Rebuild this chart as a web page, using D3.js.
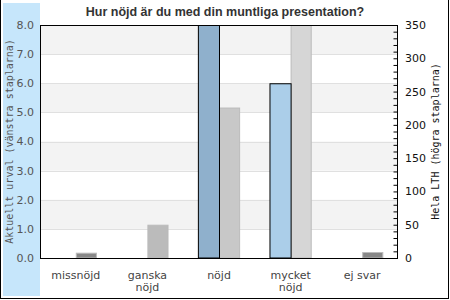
<!DOCTYPE html>
<html>
<head>
<meta charset="utf-8">
<script src="https://cdn.jsdelivr.net/npm/d3@7"></script>
<style>
  body { margin: 0; background: #fff; }
  svg { display: block; }
</style>
</head>
<body>
<svg id="chart" width="450" height="300"></svg>
<script>
const categories = [["missnöjd"], ["ganska", "nöjd"], ["nöjd"], ["mycket", "nöjd"], ["ej svar"]];
const currentValues = [0, 0, 8, 6, 0];        // left axis (Aktuellt urval)
const lthValues = [8, 50, 226, 350, 9];       // right axis (Hela LTH)
const leftTicks = [0, 1, 2, 3, 4, 5, 6, 7, 8];
const rightTicks = [0, 50, 100, 150, 200, 250, 300, 350];

// colours per bar, as in the original
const blueFills = ["#abcee9", "#abcee9", "#8fb0cc", "#abcee9", "#abcee9"];
const grayFills = ["#888888", "#bbbbbb", "#c8c8c8", "#d6d6d6", "#888888"];

const W = 450, H = 300;
const margin = { left: 40, right: 52, top: 25, bottom: 42 };
const plotRight = W - margin.right;
const plotBottom = H - margin.bottom;

const svg = d3.select("#chart");
const keys = categories.map((c) => c.join(" "));

const x = d3.scaleBand().domain(keys).range([margin.left, plotRight]).paddingInner(0.41).paddingOuter(0.205);
const sub = d3.scaleBand().domain(["cur", "lth"]).range([0, x.bandwidth()]);
const yL = d3.scaleLinear().domain([0, 8]).range([plotBottom, margin.top]);
const yR = d3.scaleLinear().domain([0, 350]).range([plotBottom, margin.top]);

// outer frame + left panel
svg.append("rect").attr("x", 0.5).attr("y", -2).attr("width", 448).attr("height", 300.5)
  .attr("fill", "none").attr("stroke", "#000");
svg.append("rect").attr("x", 3).attr("y", 3).attr("width", margin.left - 3).attr("height", 293)
  .attr("fill", "#c6e6fb");

// alternating bands
const bands = svg.append("g");
leftTicks.slice(1).forEach((t) => {
  if (t % 2 === 0) {
    bands.append("rect").attr("x", margin.left).attr("y", yL(t))
      .attr("width", plotRight - margin.left).attr("height", yL(t - 1) - yL(t)).attr("fill", "#f3f3f3");
  }
});
bands.selectAll("line").data(leftTicks.slice(1, -1)).join("line")
  .attr("x1", margin.left).attr("x2", plotRight)
  .attr("y1", (d) => Math.round(yL(d)) + 0.5).attr("y2", (d) => Math.round(yL(d)) + 0.5)
  .attr("stroke", "#e0e0e0");

// bars
const groups = svg.append("g").selectAll("g").data(keys).join("g")
  .attr("transform", (d) => `translate(${x(d)},0)`);

groups.filter((d, i) => lthValues[i] > 0).append("rect")
  .attr("x", sub("lth") + 0.5)
  .attr("y", (d) => yR(lthValues[keys.indexOf(d)]) + 0.5)
  .attr("width", sub.bandwidth() - 1)
  .attr("height", (d) => plotBottom - yR(lthValues[keys.indexOf(d)]) - 0.5)
  .attr("fill", (d) => grayFills[keys.indexOf(d)])
  .attr("stroke", "#bbbbbb");

groups.filter((d, i) => currentValues[i] > 0).append("rect")
  .attr("x", sub("cur") + 0.5)
  .attr("y", (d) => yL(currentValues[keys.indexOf(d)]) + 0.5)
  .attr("width", sub.bandwidth())
  .attr("height", (d) => plotBottom - yL(currentValues[keys.indexOf(d)]) - 0.5)
  .attr("fill", (d) => blueFills[keys.indexOf(d)])
  .attr("stroke", "#000");

// plot frame
svg.append("rect").attr("x", margin.left + 0.5).attr("y", margin.top + 0.5)
  .attr("width", plotRight - margin.left - 1).attr("height", plotBottom - margin.top)
  .attr("fill", "none").attr("stroke", "#000");

// left axis labels
svg.append("g").selectAll("text").data(leftTicks).join("text")
  .attr("x", 34).attr("y", (d) => yL(d)).attr("dy", "0.36em")
  .attr("text-anchor", "end")
  .attr("font-family", "DejaVu Sans, Verdana, sans-serif").attr("font-size", 11)
  .attr("fill", "#555").text((d) => d.toFixed(1));

// right axis with inward ticks
const rAxis = d3.axisRight(yR).tickValues(d3.range(0, 351, 10)).tickSizeInner(-4).tickSizeOuter(0).tickFormat("");
svg.append("g").attr("transform", `translate(${plotRight - 0.5},0)`).call(rAxis)
  .call((g) => g.select(".domain").remove())
  .call((g) => g.selectAll("line").attr("stroke", "#000"));
svg.append("g").selectAll("text").data(rightTicks).join("text")
  .attr("x", plotRight + 7).attr("y", (d) => yR(d)).attr("dy", "0.36em")
  .attr("font-family", "DejaVu Sans, Verdana, sans-serif").attr("font-size", 11)
  .attr("fill", "#111").text((d) => d);

// category labels
const catLabels = svg.append("g").selectAll("text").data(categories).join("text")
  .attr("text-anchor", "middle")
  .attr("font-family", "DejaVu Sans, Verdana, sans-serif").attr("font-size", 11)
  .attr("fill", "#444")
  .attr("transform", (d, i) => `translate(${x(keys[i]) + x.bandwidth() / 2},${plotBottom + 21})`);
catLabels.selectAll("tspan").data((d) => d).join("tspan")
  .attr("x", 0).attr("dy", (d, i) => (i === 0 ? 0 : 12)).text((d) => d);

// axis titles
const midY = (margin.top + plotBottom) / 2;
svg.append("text")
  .attr("transform", `translate(13,${midY}) rotate(-90)`)
  .attr("text-anchor", "middle")
  .attr("font-family", "DejaVu Sans Mono, monospace").attr("font-size", 10)
  .attr("fill", "#555").text("Aktuellt urval (vänstra staplarna)");
svg.append("text")
  .attr("transform", `translate(439,${midY}) rotate(-90)`)
  .attr("text-anchor", "middle")
  .attr("font-family", "DejaVu Sans Mono, monospace").attr("font-size", 10)
  .attr("fill", "#111").text("Hela LTH (högra staplarna)");

// title
svg.append("text")
  .attr("x", 225).attr("y", 16).attr("text-anchor", "middle")
  .attr("font-family", "Liberation Sans, Arial, sans-serif").attr("font-size", 12.5)
  .attr("font-weight", "bold").attr("fill", "#333")
  .text("Hur nöjd är du med din muntliga presentation?");
</script>
</body>
</html>
